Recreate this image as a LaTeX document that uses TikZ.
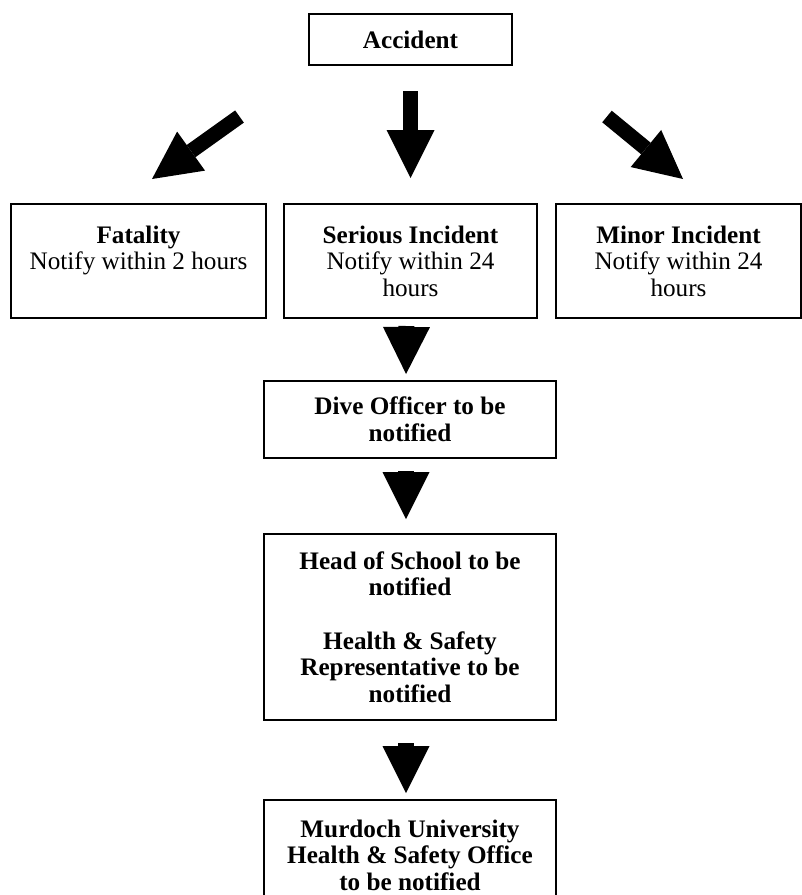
\documentclass[tikz,border=0pt]{standalone}
\usepackage{fontspec}
\setmainfont{Liberation Serif}
\usepackage{tikz}
\usetikzlibrary{arrows.meta,positioning,calc}
\tikzstyle{box}=[draw,line width=1pt,rectangle,inner sep=0pt,align=center,font=\fontsize{12.6}{13.3}\selectfont]
\tikzstyle{boldbox}=[box,font=\fontsize{12.6}{13.3}\selectfont\bfseries]
\tikzstyle{bigarrow}=[line width=7.5pt,-{Triangle[length=24pt,width=24pt,line width=0pt]}]
\tikzstyle{smallarrow}=[line width=8pt,-{Triangle[length=23.5pt,width=23.5pt,line width=0pt]}]

\begin{document}
\begin{tikzpicture}[x=0.5pt,y=-0.5pt]
\useasboundingbox (0,0) rectangle (802,895);
\clip (0,0) rectangle (802,895);
\node [boldbox,minimum width=101.5pt,minimum height=25.5pt] (acc) at (410.5,39.5) {Accident};
\node [box,minimum width=127.5pt,minimum height=57pt] (fatal) at (138.5,261) {\textbf{Fatality}\\Notify within 2 hours\\~};
\node [box,minimum width=126.5pt,minimum height=57pt] (serious) at (410.5,261) {\textbf{Serious Incident}\\Notify within 24\\hours};
\node [box,minimum width=122.5pt,minimum height=57pt] (minor) at (678.5,261) {\textbf{Minor Incident}\\Notify within 24\\hours};
\node [boldbox,minimum width=146pt,minimum height=38.5pt] (dive) at (410,419.5) {Dive Officer to be\\notified};
\node [boldbox,minimum width=146pt,minimum height=93pt] (head) at (410,627) {Head of School to be\\notified\\[13.3pt]Health \& Safety\\Representative to be\\notified};
\node [boldbox,minimum width=146pt,minimum height=55pt,anchor=north] (murdoch) at (410,799) {Murdoch University\\Health \& Safety Office\\to be notified};

% arrows out of the accident box
\coordinate (ltail) at (239.5,116.5);
\coordinate (ltip) at (152,179);
\coordinate (rtail) at (607,116.5);
\coordinate (rtip) at (683,179);
\draw [bigarrow] (ltail) -- (ltip);
\draw [bigarrow,shorten <=12.5pt,shorten >=12.5pt] (acc) -- (serious);
\draw [bigarrow] (rtail) -- (rtip);

% chain below serious incident
\draw [smallarrow,shorten <=3.5pt,shorten >=3pt] ([xshift=-2pt]serious.south) -- ([xshift=-2pt]dive.north);
\draw [smallarrow,shorten <=6pt,shorten >=7pt] ([xshift=-2pt]dive.south) -- ([xshift=-2pt]head.north);
\draw [smallarrow,shorten <=11pt,shorten >=3pt] ([xshift=-2pt]head.south) -- ([xshift=-2pt]murdoch.north);
\end{tikzpicture}
\end{document}
